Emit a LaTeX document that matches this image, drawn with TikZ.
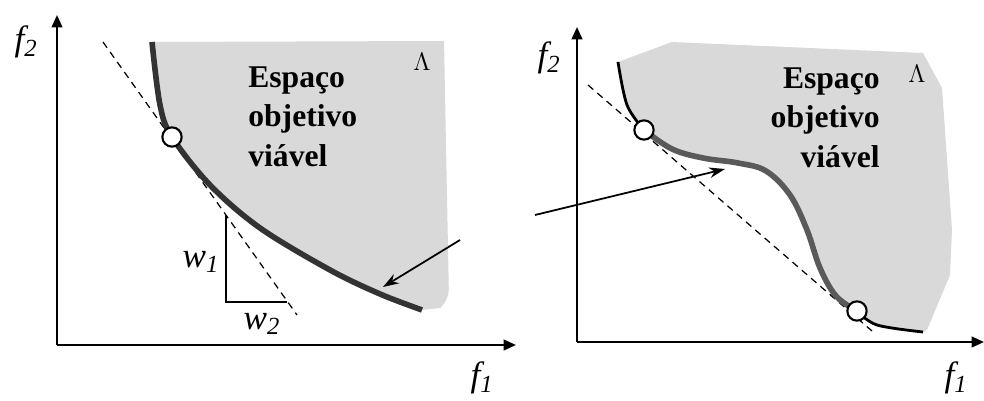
\documentclass[tikz,border=0pt]{standalone}
\usepackage{fontspec}
\setmainfont{Liberation Serif}
\usepackage{tikz}
\usetikzlibrary{arrows.meta, positioning, calc}
\definecolor{RegGray}{RGB}{217,217,217}
\definecolor{FrontDark}{RGB}{51,51,51}
\definecolor{FrontMid}{RGB}{90,90,90}

\begin{document}
\begin{tikzpicture}[x=0.02cm, y=-0.02cm,
            axis/.style={line width=1.3pt, -{Triangle[length=7pt, width=6pt]}},
            tang/.style={dashed, line width=0.7pt, dash pattern=on 4pt off 3pt},
            front/.style={line width=3.2pt, FrontDark},
            opt/.style={circle, draw=black, fill=white, line width=1.2pt,
                        inner sep=0pt, minimum size=11pt},
            lbl/.style={font=\fontsize{20}{22}\selectfont\itshape, inner sep=0pt},
            reg/.style={font=\fontsize{18}{22.7}\selectfont\bfseries, inner sep=0pt},
            lam/.style={font=\fontsize{15}{16}\selectfont, inner sep=0pt},
            ptr/.style={line width=1pt, -{Stealth[length=9pt, width=6pt]}}
          ]
          \useasboundingbox (0,0) rectangle (984,401);
          % ---------- left: convex front ----------
          \fill[RegGray] plot[smooth, tension=0.55] coordinates {(152,42) (160,105) (172,137)
                (210,185) (260,228) (330,270) (380,294) (422,310)}
                -- (440,308) [rounded corners=6pt] -- (449,300) [sharp corners] -- (444,41) -- cycle;
          \coordinate (oA) at (57,345);
          \coordinate (yA) at (57,15);
          \coordinate (xA) at (516,345);
          \draw[axis] (oA) -- (yA);
          \draw[axis] (oA) -- (xA);
          \node[lbl] (fyA) at (26,42) {f\textsubscript{2}};
          \node[lbl] (fxA) at (482,378) {f\textsubscript{1}};
          \coordinate (tA1) at (103,42);
          \coordinate (tA2) at (297,315);
          \draw[tang] (tA1) -- (tA2);
          \draw[front] plot[smooth, tension=0.55] coordinates {(152,42) (160,105) (172,137)
                (210,185) (260,228) (330,270) (380,294) (422,310)};
          \node[opt] (pA) at (172,137) {};
          % weights triangle
          \coordinate (wTop) at (226,215);
          \coordinate (wCor) at (226,302);
          \coordinate (wEnd) at (287,302);
          \draw[line width=1pt] (wTop) -- (wCor) -- (wEnd);
          \node[lbl] (w1) at (201,262) {w\textsubscript{1}};
          \node[lbl] (w2) at (262,324) {w\textsubscript{2}};
          \node[reg, align=left, anchor=north west] (txtA) at (248,66)
                {Espaço\\objetivo\\viável};
          \node[lam] (lamA) at (422,62) {$\Lambda$};
          \coordinate (arA) at (460,240);
          \coordinate (hdA) at (383,287);
          \draw[ptr] (arA) -- (hdA);
          % ---------- right: non-convex front ----------
          \fill[RegGray] plot[smooth, tension=0.6] coordinates {(618,62) (627,105) (644,130)
                (672,149) (703,158) (738,163) (766,171) (790,195) (807,230) (820,268)
                (836,296) (857,311) (877,325) (923,332)}
                -- (927,330) -- (950,275) -- (952,230) -- (942,88) -- (923,53)
                -- (672,42) -- cycle;
          \coordinate (oB) at (577,342);
          \coordinate (yB) at (577,27);
          \coordinate (xB) at (984,342);
          \draw[axis] (oB) -- (yB);
          \draw[axis] (oB) -- (xB);
          \node[lbl] (fyB) at (549,58) {f\textsubscript{2}};
          \node[lbl] (fxB) at (956,378) {f\textsubscript{1}};
          \coordinate (tB1) at (588,85);
          \coordinate (tB2) at (872,331);
          \draw[tang] (tB1) -- (tB2);
          \draw[line width=1.6pt] plot[smooth, tension=0.55] coordinates {(618,62) (627,105) (644,130)};
          \draw[front, FrontMid] plot[smooth, tension=0.6] coordinates {(644,130)
                (672,149) (703,158) (738,163) (766,171) (790,195) (807,230) (820,268)
                (836,296) (857,311)};
          \draw[line width=1.6pt] plot[smooth, tension=0.55] coordinates {(857,311) (877,325) (923,332)};
          \node[opt] (pB1) at (644,130) {};
          \node[opt] (pB2) at (857,311) {};
          \node[reg, align=right, anchor=north east] (txtB) at (880,67)
                {Espaço\\objetivo\\viável};
          \node[lam] (lamB) at (917,74) {$\Lambda$};
          \coordinate (arB) at (535,215);
          \coordinate (hdB) at (725,169);
          \draw[ptr] (arB) -- (hdB);
        \end{tikzpicture}
\end{document}
